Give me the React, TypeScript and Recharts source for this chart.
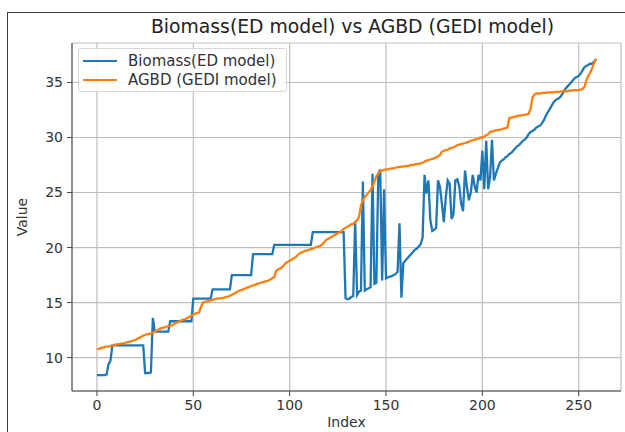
import { CartesianGrid, Line, LineChart, XAxis, YAxis } from "recharts";

const indexTicks = [0, 50, 100, 150, 200, 250];
const valueTicks = [10, 15, 20, 25, 30, 35];

// Biomass (ED model), index 0..259
const biomassEd = [
  8.4, 8.4, 8.4, 8.4, 8.4, 8.45, 9.4, 9.7, 11.1, 11.1,
  11.1, 11.1, 11.1, 11.1, 11.1, 11.1, 11.1, 11.1, 11.1, 11.1,
  11.1, 11.1, 11.1, 11.1, 11.1, 8.6, 8.6, 8.6, 8.65, 13.6,
  12.4, 12.35, 12.35, 12.35, 12.35, 12.35, 12.35, 12.35, 13.3, 13.3,
  13.3, 13.3, 13.3, 13.3, 13.3, 13.3, 13.3, 13.3, 13.3, 13.3,
  15.35, 15.35, 15.35, 15.35, 15.35, 15.35, 15.35, 15.35, 15.35, 15.35,
  16.2, 16.2, 16.2, 16.2, 16.2, 16.2, 16.2, 16.2, 16.2, 16.2,
  17.5, 17.5, 17.5, 17.5, 17.5, 17.5, 17.5, 17.5, 17.5, 17.5,
  17.5, 19.4, 19.4, 19.4, 19.4, 19.4, 19.4, 19.4, 19.4, 19.4,
  19.4, 19.4, 20.25, 20.25, 20.25, 20.25, 20.25, 20.25, 20.25, 20.25,
  20.25, 20.25, 20.25, 20.25, 20.25, 20.25, 20.25, 20.25, 20.25, 20.25,
  20.25, 20.25, 21.4, 21.4, 21.4, 21.4, 21.4, 21.4, 21.4, 21.4,
  21.4, 21.4, 21.4, 21.4, 21.4, 21.4, 21.4, 21.4, 21.4, 15.4,
  15.3, 15.35, 15.5, 15.6, 22.4, 15.7, 16.0, 16.1, 26.0, 16.1,
  16.2, 16.3, 16.4, 26.7, 16.7, 16.8, 26.7, 27.1, 17.0, 25.3,
  17.2, 17.3, 17.35, 17.4, 17.5, 17.6, 17.8, 22.2, 15.45, 18.6,
  18.8, 19.0, 19.2, 19.4, 19.6, 19.8, 19.9, 20.1, 20.3, 20.9,
  26.6, 24.9, 26.1, 22.5, 21.5, 21.6, 21.8, 26.1, 25.5, 24.0,
  22.3, 24.5, 26.1, 25.8, 22.6, 23.0, 26.1, 26.2, 25.6, 24.0,
  23.3, 27.0, 25.5, 24.3, 25.0, 26.6, 25.6, 25.0, 26.6, 26.1,
  28.8, 25.3, 29.7, 25.3, 26.4, 29.8, 26.1, 26.7, 27.2, 27.7,
  27.9, 28.0, 28.2, 28.3, 28.5, 28.6, 28.8, 29.0, 29.2, 29.3,
  29.5, 29.7, 29.8, 30.0, 30.3, 30.5, 30.6, 30.7, 30.9, 31.0,
  31.1, 31.3, 31.6, 32.0, 32.3, 32.6, 32.9, 33.2, 33.4, 33.5,
  33.6, 33.8, 34.1, 34.4, 34.6, 34.8, 35.0, 35.2, 35.4, 35.5,
  35.6, 35.8, 36.1, 36.4, 36.5, 36.6, 36.7, 36.7, 36.9, 37.1,
];

// AGBD (GEDI model), index 0..259
const agbdGedi = [
  10.76, 10.8, 10.85, 10.9, 10.95, 11.0, 11.02, 11.05, 11.1, 11.15,
  11.2, 11.22, 11.25, 11.3, 11.32, 11.35, 11.4, 11.45, 11.5, 11.55,
  11.6, 11.7, 11.8, 11.9, 12.0, 12.05, 12.1, 12.15, 12.2, 12.27,
  12.35, 12.45, 12.55, 12.65, 12.7, 12.75, 12.8, 12.85, 12.9, 12.95,
  13.05, 13.15, 13.25, 13.3, 13.4, 13.45, 13.5, 13.6, 13.7, 13.8,
  13.9, 14.0, 14.05, 14.1, 14.6, 15.0, 15.05, 15.1, 15.15, 15.2,
  15.25, 15.3, 15.35, 15.35, 15.4, 15.4, 15.45, 15.5, 15.55, 15.6,
  15.7, 15.8, 15.9, 16.0, 16.1, 16.15, 16.2, 16.3, 16.35, 16.4,
  16.5, 16.55, 16.6, 16.7, 16.75, 16.8, 16.85, 16.9, 16.95, 17.0,
  17.1, 17.2, 17.3, 17.9, 18.0, 18.1, 18.2, 18.4, 18.6, 18.7,
  18.8, 18.9, 19.0, 19.1, 19.3, 19.45, 19.55, 19.6, 19.7, 19.75,
  19.8, 19.85, 19.9, 20.0, 20.05, 20.1, 20.15, 20.3, 20.5, 20.7,
  20.8, 20.9, 21.0, 21.1, 21.2, 21.3, 21.4, 21.5, 21.7, 21.8,
  21.9, 22.0, 22.1, 22.15, 22.3, 22.5, 22.8, 23.8, 24.3, 24.6,
  24.8, 25.0, 25.2, 25.6, 26.0, 26.5, 26.7, 26.97, 27.0, 27.05,
  27.1, 27.1, 27.15, 27.2, 27.2, 27.25, 27.3, 27.3, 27.35, 27.35,
  27.4, 27.4, 27.45, 27.5, 27.5, 27.55, 27.6, 27.6, 27.65, 27.7,
  27.8, 27.9, 27.95, 28.0, 28.05, 28.1, 28.2, 28.3, 28.4, 28.7,
  28.8, 28.85, 28.9, 29.0, 29.05, 29.1, 29.2, 29.3, 29.35, 29.4,
  29.45, 29.5, 29.55, 29.6, 29.7, 29.75, 29.8, 29.85, 29.9, 30.0,
  30.0, 30.1, 30.2, 30.3, 30.5, 30.55, 30.6, 30.65, 30.7, 30.7,
  30.75, 30.8, 30.85, 30.9, 31.75, 31.8, 31.85, 31.9, 31.95, 32.0,
  32.0, 32.05, 32.05, 32.1, 32.15, 32.6, 33.6, 33.9, 34.0, 34.0,
  34.0, 34.05, 34.05, 34.05, 34.1, 34.1, 34.1, 34.1, 34.15, 34.15,
  34.15, 34.2, 34.2, 34.2, 34.2, 34.25, 34.25, 34.3, 34.3, 34.3,
  34.3, 34.35, 34.4, 34.6, 35.2, 35.6, 35.9, 36.3, 36.8, 37.15,
];

const BLUE = "#1f77b4";
const ORANGE = "#ff7f0e";
const FONT = "'DejaVu Sans', sans-serif";

const data = biomassEd.map((v, i) => ({ index: i, biomass: v, agbd: agbdGedi[i] }));

// matplotlib-style 5% margins
const n = data.length - 1;
const xDomain = [-0.05 * n, n * 1.05];
const all = [...biomassEd, ...agbdGedi];
const yMin = Math.min(...all);
const yMax = Math.max(...all);
const yPad = (yMax - yMin) * 0.05;
const yDomain = [yMin - yPad, yMax + yPad];

const tickStyle = { fontSize: 14, fill: "#333", fontFamily: FONT };

function LegendBox() {
  const items = [
    { label: "Biomass(ED model)", color: BLUE },
    { label: "AGBD (GEDI model)", color: ORANGE },
  ];
  return (
    <div
      style={{
        position: "absolute",
        left: 78,
        top: 48,
        width: 209,
        height: 44,
        border: "1px solid #d6d6d6",
        borderRadius: 3,
        background: "rgba(255,255,255,0.85)",
        boxSizing: "border-box",
        padding: "2px 0 0 4px",
      }}
    >
      {items.map((it) => (
        <div key={it.label} style={{ display: "flex", alignItems: "center", height: 19.5 }}>
          <span style={{ display: "inline-block", width: 34, height: 2.2, background: it.color }} />
          <span style={{ marginLeft: 11, fontSize: 15, color: "#333", fontFamily: FONT, whiteSpace: "nowrap" }}>
            {it.label}
          </span>
        </div>
      ))}
    </div>
  );
}

export default function App() {
  return (
    <div style={{ position: "absolute", left: 0, top: 0, width: 625, height: 432, background: "#fff", fontFamily: FONT }}>
      <div
        style={{
          position: "absolute",
          left: 7,
          top: 12,
          width: 640,
          height: 440,
          borderTop: "1.5px solid #3a3a3a",
          borderLeft: "1.5px solid #3a3a3a",
        }}
      />
      <div
        style={{
          position: "absolute",
          left: 72,
          width: 561,
          top: 16,
          textAlign: "center",
          fontSize: 18.8,
          color: "#222",
          whiteSpace: "nowrap",
        }}
      >
        Biomass(ED model) vs AGBD (GEDI model)
      </div>
      <LineChart
        width={625}
        height={432}
        data={data}
        margin={{ top: 43, right: 4, bottom: 9, left: 12 }}
        style={{ position: "absolute", left: 0, top: 0 }}
      >
        <CartesianGrid stroke="#bfbfbf" strokeWidth={1.2} />
        <XAxis
          dataKey="index"
          type="number"
          domain={xDomain}
          ticks={indexTicks}
          allowDataOverflow
          height={32}
          tick={tickStyle}
          tickSize={5}
          tickMargin={4}
          stroke="#444"
          tickLine={{ stroke: "#444" }}
        />
        <XAxis xAxisId="top" orientation="top" dataKey="index" type="number" domain={xDomain} height={0} tick={false} tickLine={false} stroke="#444" />
        <YAxis
          type="number"
          domain={yDomain}
          ticks={valueTicks}
          allowDataOverflow
          width={60}
          tick={tickStyle}
          tickSize={5}
          tickMargin={4}
          stroke="#444"
          tickLine={{ stroke: "#444" }}
        />
        <YAxis yAxisId="right" orientation="right" domain={yDomain} width={0} tick={false} tickLine={false} stroke="#444" />
        <Line type="linear" dataKey="biomass" stroke={BLUE} strokeWidth={2.3} dot={false} isAnimationActive={false} />
        <Line type="linear" dataKey="agbd" stroke={ORANGE} strokeWidth={2.3} dot={false} isAnimationActive={false} />
      </LineChart>
      <div style={{ position: "absolute", left: 72, width: 549, top: 414, textAlign: "center", fontSize: 14, color: "#333" }}>
        Index
      </div>
      <div
        style={{
          position: "absolute",
          left: 22,
          top: 217,
          transform: "translate(-50%, -50%) rotate(-90deg)",
          fontSize: 14,
          color: "#333",
        }}
      >
        Value
      </div>
      <LegendBox />
    </div>
  );
}
